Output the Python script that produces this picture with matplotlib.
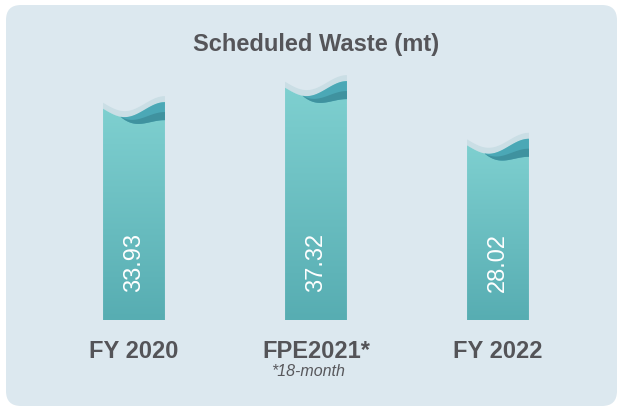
import numpy as np
import matplotlib
matplotlib.use("Agg")
import matplotlib.pyplot as plt
from matplotlib.patches import Polygon, FancyBboxPatch
from matplotlib.colors import LinearSegmentedColormap

# Chart data
categories = ["FY 2020", "FPE2021*", "FY 2022"]
values = [33.93, 37.32, 28.02]
footnote = "*18-month"
title = "Scheduled Waste (mt)"

plt.rcParams['font.family'] = ['Liberation Sans', 'DejaVu Sans']

fig = plt.figure(figsize=(6.19, 4.07), dpi=100)
fig.patch.set_facecolor('white')

# rounded light-blue panel behind everything
r = 0.15
panel = FancyBboxPatch((0.06 + r, 0.01 + r), 6.11 - 2 * r, 4.01 - 2 * r,
                       boxstyle=f"round,pad={r}", transform=fig.dpi_scale_trans,
                       facecolor='#dce8ef', edgecolor='none', zorder=-5)
fig.add_artist(panel)

ax = fig.add_axes([0, 0, 1, 1])
ax.patch.set_alpha(0)
ax.axis('off')

ppu = 6.2            # pixels per data unit (vertical)
px = 1.0 / ppu       # one pixel in data units
ax.set_xlim(-134 / 182, (619 - 134) / 182)
ax.set_ylim(-87 * px, 320 * px)

width = 0.34
cmap = LinearSegmentedColormap.from_list('bar', ['#57adb2', '#80d1d1'])
t = np.linspace(0, 1, 120)

def wave(t):
    # top edge of the bar, in pixels relative to bar height
    return -7.5 * np.cos(2 * np.pi * (t - 0.35) / 1.3)

for i, v in enumerate(values):
    x0 = i - width / 2
    xs = x0 + t * width
    top = v + wave(t) * px

    # pale rim above the wave
    rim = np.vstack([np.column_stack([xs, top + 6 * px]),
                     np.column_stack([xs[::-1], top[::-1]])])
    ax.add_patch(Polygon(rim, closed=True, facecolor='#cadee5', edgecolor='none', zorder=2))

    # main bar body with vertical gradient
    body = np.vstack([[[x0 + width, 0], [x0, 0]], np.column_stack([xs, top])])
    poly = Polygon(body, closed=True, facecolor='none', edgecolor='none', zorder=3)
    ax.add_patch(poly)
    grad = np.linspace(0, 1, 256).reshape(-1, 1)
    im = ax.imshow(grad, extent=[x0, x0 + width, 0, v + 8 * px], origin='lower',
                   aspect='auto', cmap=cmap, zorder=3)
    im.set_clip_path(poly)

    # darker wave band on the right side
    s = np.clip((t - 0.28) / 0.72, 0, 1)
    thick = 18 * np.sin(np.pi / 2 * s) * px
    m = t >= 0.28
    band = np.vstack([np.column_stack([xs[m], top[m]]),
                      np.column_stack([xs[m][::-1], (top - thick)[m][::-1]])])
    ax.add_patch(Polygon(band, closed=True, facecolor='#4ba8b6', edgecolor='none', zorder=4))
    low = np.vstack([np.column_stack([xs[m], (top - 0.55 * thick)[m]]),
                     np.column_stack([xs[m][::-1], (top - thick)[m][::-1]])])
    ax.add_patch(Polygon(low, closed=True, facecolor='#3f929f', edgecolor='none', zorder=4))

    # value text inside the bar
    ax.text(i, 4.5, f"{v:.2f}", rotation=90, ha='center', va='bottom',
            color='white', fontsize=17, zorder=5)

    # category label
    ax.text(i, -32 * px, categories[i], ha='center', va='center', fontsize=17,
            fontweight='bold', color='#545458', zorder=5)

ax.text(1 - 8 / 182, -52 * px, footnote, ha='center', va='center', fontsize=11.5,
        style='italic', color='#58585c', zorder=5)

fig.text(316 / 619, 1 - 45 / 407, title, ha='center', va='center', fontsize=17,
         fontweight='bold', color='#555559')

fig.savefig('out.png', dpi=100)
